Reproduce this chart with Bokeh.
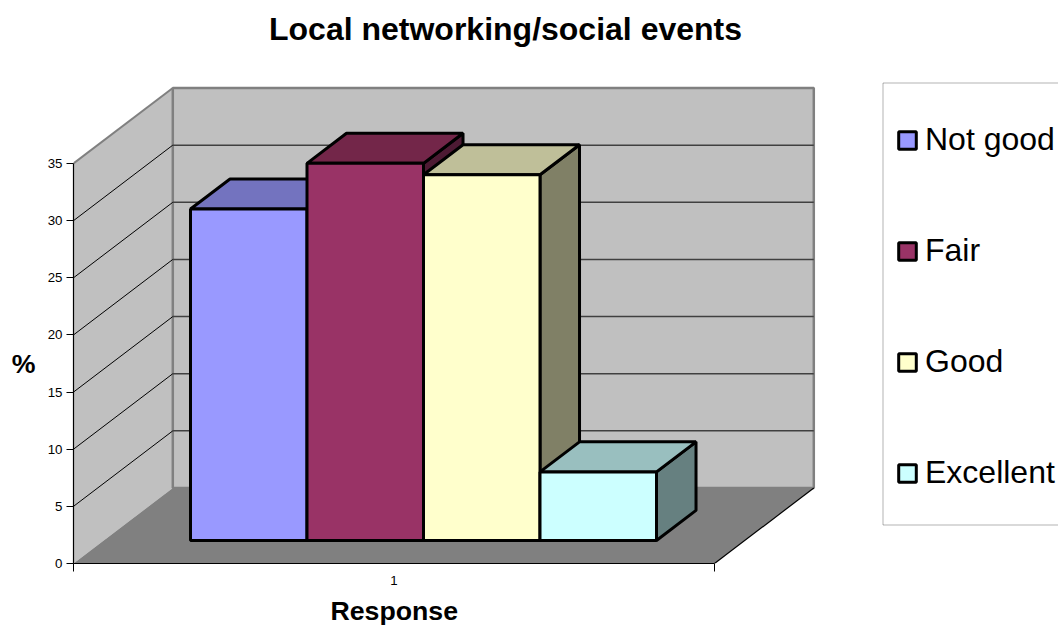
from bokeh.plotting import figure
from bokeh.models import (FixedTicker, Legend, LegendItem, BoxAnnotation, LinearAxis, Range1d, Label, Title)
from bokeh.embed import file_html
from bokeh.resources import INLINE

title_text = "Local networking/social events"
x_title = "Response"
y_title = "%"
categories = ["Not good", "Fair", "Good", "Excellent"]
values = [29, 33, 32, 6]
y_ticks = [0, 5, 10, 15, 20, 25, 30, 35]
colors = ["#9999FF", "#993366", "#FFFFCC", "#CCFFFF"]
top_colors = ["#7373BF", "#732649", "#BFBF99", "#99BFBF"]
side_colors = ["#4D4D80", "#4D1A33", "#808066", "#668080"]

# canvas geometry, pixels
W, H = 1058, 633
X0, X1 = 73, 714       # floor front edge
Y0, Y35 = 563, 163     # value axis
TOP = 70
px_x = (X1 - X0) / 1.0
px_y = (Y0 - Y35) / 35.0

# oblique projection of the depth axis, in data units
WALL_DX = 99.3 / px_x
WALL_DY = 75.5 / px_y
D_FRONT, D_BACK = 0.305, 0.703
BAR_START = 0.5 + (190 - X0 - D_FRONT * 99.3) / px_x
BAR_W = (656 - 190) / 4 / px_x
VMAX = y_ticks[-1]

def dx(d):
    return d * WALL_DX

def dy(d):
    return d * WALL_DY

xa, xb = 0.5, 1.5

p = figure(width=W, height=H, output_backend="svg", toolbar_location=None,
           x_range=Range1d(0.5, 0.5 + (W - X0) / px_x),
           y_range=Range1d(0, (Y0 - TOP) / px_y),
           x_axis_type=None, y_axis_type=None,
           min_border_left=X0, min_border_right=0,
           min_border_top=TOP, min_border_bottom=H - Y0,
           background_fill_color="white", border_fill_color="white",
           outline_line_color=None)
p.grid.visible = False

# walls and floor
GRAY = "#808080"
p.patch([xa, xa + dx(1), xa + dx(1), xa], [0, dy(1), VMAX + dy(1), VMAX],
        fill_color="#C0C0C0", line_color=None)
p.patch([xa + dx(1), xb + dx(1), xb + dx(1), xa + dx(1)],
        [dy(1), dy(1), VMAX + dy(1), VMAX + dy(1)],
        fill_color="#C0C0C0", line_color=GRAY, line_width=2.5)
p.patch([xa, xb, xb + dx(1), xa + dx(1)], [0, 0, dy(1), dy(1)],
        fill_color=GRAY, line_color=None)
p.line([xa, xa + dx(1)], [VMAX, VMAX + dy(1)], line_color=GRAY, line_width=2)
p.line([xb, xb + dx(1)], [0, dy(1)], line_color="black", line_width=1.2)

# gridlines
for t in y_ticks[1:-1]:
    p.line([xa, xa + dx(1)], [t, t + dy(1)], line_color="black", line_width=1)
    p.line([xa + dx(1), xb + dx(1)], [t + dy(1), t + dy(1)],
           line_color="#404040", line_width=1.5)

# bars, painted left to right
fronts = []
base = dy(D_FRONT)
for i, (v, c, tc, sc) in enumerate(zip(values, colors, top_colors, side_colors)):
    l = BAR_START + i * BAR_W + dx(D_FRONT)
    r = l + BAR_W
    t = base + v
    d = dx(D_BACK) - dx(D_FRONT)
    e = dy(D_BACK) - dy(D_FRONT)
    lw = 3
    p.patch([r, r + d, r + d, r], [base, base + e, t + e, t],
            fill_color=sc, line_color="black", line_width=lw)
    p.patch([l, l + d, r + d, r], [t, t + e, t + e, t],
            fill_color=tc, line_color="black", line_width=lw)
    fronts.append(p.quad(left=[l], right=[r], bottom=[base], top=[t],
                         fill_color=c, line_color="black", line_width=lw))

# axes
yax = LinearAxis(ticker=FixedTicker(ticks=y_ticks), bounds=(0, VMAX))
yax.major_label_text_font = "Liberation Sans"
yax.major_label_text_font_size = "13.3px"
yax.major_label_text_color = "black"
yax.major_label_standoff = 4
yax.major_tick_out = 7
yax.major_tick_in = 0
yax.minor_tick_out = 0
yax.minor_tick_in = 0
yax.axis_line_color = "black"
yax.major_tick_line_color = "black"
yax.axis_line_width = 1.2
p.add_layout(yax, "left")

xax = LinearAxis(ticker=FixedTicker(ticks=[1], minor_ticks=[0.5, 1.5]), bounds=(0.5, 1.5))
xax.major_tick_out = 0
xax.major_tick_in = 0
xax.minor_tick_out = 8
xax.minor_tick_in = 0
xax.minor_tick_line_color = "black"
xax.axis_line_color = "black"
xax.axis_line_width = 1.2
xax.major_label_text_font = "Liberation Sans"
xax.major_label_text_font_size = "13.3px"
xax.major_label_text_color = "black"
xax.major_label_standoff = 4
p.add_layout(xax, "below")

# chart title
p.add_layout(Label(x=505 - X0, y=TOP - 28, x_units="screen", y_units="screen", text=title_text,
                   text_align="center", text_baseline="middle",
                   text_font="Liberation Sans", text_font_style="bold",
                   text_font_size="32px", text_color="black"), "above")

# axis titles
xt = Title(text=x_title, align="left", offset=330 - X0, standoff=13,
           text_font="Liberation Sans", text_font_style="bold",
           text_font_size="26.7px", text_color="black")
p.add_layout(xt, "below")
p.add_layout(Label(x=3, y=Y0 - 363, x_units="screen", y_units="screen", text=y_title,
                   text_align="center", text_baseline="middle",
                   text_font="Liberation Sans", text_font_style="bold",
                   text_font_size="26.7px", text_color="black"), "left")

# legend frame
def ypx(y):
    return (Y0 - y) / px_y

def xpx(x):
    return 0.5 + (x - X0) / px_x

p.add_layout(BoxAnnotation(left=xpx(882.5), right=xpx(W + 20), top=ypx(82.5), bottom=ypx(524.5),
                           fill_alpha=0, line_color="black", line_width=1, level="underlay"))

legend = Legend(items=[LegendItem(label=c, renderers=[f]) for c, f in zip(categories, fronts)],
                location=(896 - X0, Y0 - 525 + 34), orientation="vertical",
                margin=0, padding=0, spacing=74, glyph_width=22, glyph_height=22,
                label_standoff=7, label_height=22,
                label_text_font="Liberation Sans", label_text_font_size="32px",
                label_text_color="black", border_line_color=None,
                background_fill_alpha=0, click_policy="none")
p.add_layout(legend, "center")

open("out.html", "w").write(file_html(p, INLINE))
